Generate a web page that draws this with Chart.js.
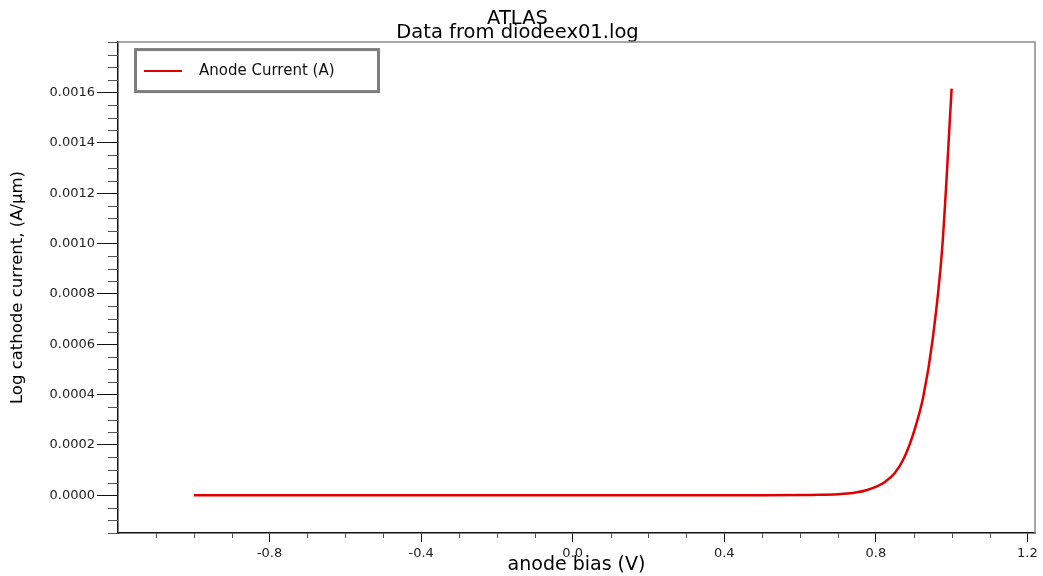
<!DOCTYPE html>
<html>
<head>
<meta charset="utf-8">
<title>ATLAS - diodeex01.log</title>
<script src="https://cdn.jsdelivr.net/npm/chart.js@4.4.1/dist/chart.umd.min.js"></script>
<style>
  html, body { margin: 0; padding: 0; background: #fff; }
</style>
</head>
<body>
<canvas id="ivChart" width="1043" height="576"></canvas>
<script>
// anode sweep read from diodeex01.log
const anodeBias = [-1.0, -0.9, -0.8, -0.7, -0.6, -0.5, -0.4, -0.3, -0.2, -0.1, 0.0,
    0.1, 0.2, 0.3, 0.4, 0.5, 0.6, 0.65, 0.7, 0.725, 0.75, 0.775, 0.8, 0.825,
    0.85, 0.875, 0.9, 0.925, 0.95, 0.975, 1.0];
const anodeCurrent = [0, 0, 0, 0, 0, 0, 0, 0, 0, 0, 0,
    0, 0, 0, 0, 0, 5e-7, 1.5e-6, 4e-6, 6.5e-6, 1.15e-5, 2.0e-5, 3.3e-5, 5.4e-5,
    8.8e-5, 1.5e-4, 2.5e-4, 3.9e-4, 6.2e-4, 9.8e-4, 1.615e-3];

// axis ticks
const xMajorTicks = [-0.8, -0.4, 0.0, 0.4, 0.8, 1.2];
const yMajorTicks = [0, 0.0002, 0.0004, 0.0006, 0.0008, 0.0010, 0.0012, 0.0014, 0.0016];
const xMinorStep = 0.1;
const yMinorStep = 0.00005;

const FONT = "'DejaVu Sans', Verdana, sans-serif";

// minor ticks and the grey top/right frame
const frameTicks = {
    id: 'frameTicks',
    afterDraw(chart) {
        const ctx = chart.ctx;
        const area = chart.chartArea;
        const xs = chart.scales.x;
        const ys = chart.scales.y;
        ctx.save();
        ctx.lineWidth = 1;
        ctx.strokeStyle = '#555';
        ctx.beginPath();
        for (let v = xs.min; v <= xs.max + 1e-9; v += xMinorStep) {
            const r = Math.round(v * 10) / 10;
            if (xMajorTicks.some(t => Math.abs(t - r) < 1e-6) || r <= xs.min + 1e-6) continue;
            const px = Math.round(xs.getPixelForValue(r)) + 0.5;
            ctx.moveTo(px, area.bottom);
            ctx.lineTo(px, area.bottom + 5);
        }
        for (let v = ys.min; v <= ys.max + 1e-12; v += yMinorStep) {
            const r = Math.round(v / yMinorStep) * yMinorStep;
            if (yMajorTicks.some(t => Math.abs(t - r) < 1e-9)) continue;
            const py = Math.round(ys.getPixelForValue(r)) + 0.5;
            ctx.moveTo(area.left - 10, py);
            ctx.lineTo(area.left, py);
        }
        ctx.stroke();

        ctx.strokeStyle = '#8a8a8a';
        ctx.lineWidth = 1.5;
        ctx.beginPath();
        ctx.moveTo(area.left, area.top);
        ctx.lineTo(area.right, area.top);
        ctx.lineTo(area.right, area.bottom);
        ctx.stroke();
        ctx.restore();
    }
};

// boxed legend in the top left of the plot
const boxLegend = {
    id: 'boxLegend',
    afterDraw(chart) {
        const ctx = chart.ctx;
        const area = chart.chartArea;
        const x = area.left + 16;
        const y = area.top + 6;
        ctx.save();
        ctx.fillStyle = '#fff';
        ctx.fillRect(x, y, 246, 45);
        ctx.strokeStyle = '#7d7d7d';
        ctx.lineWidth = 3;
        ctx.strokeRect(x + 1.5, y + 1.5, 243, 42);
        chart.data.datasets.forEach((ds, i) => {
            const cy = y + 23 + i * 22;
            ctx.strokeStyle = ds.borderColor;
            ctx.lineWidth = 2;
            ctx.beginPath();
            ctx.moveTo(x + 10, cy);
            ctx.lineTo(x + 48, cy);
            ctx.stroke();
            ctx.fillStyle = '#111';
            ctx.font = '15px ' + FONT;
            ctx.textBaseline = 'middle';
            ctx.fillText(ds.label, x + 65, cy);
        });
        ctx.restore();
    }
};

const ctx = document.getElementById('ivChart').getContext('2d');
new Chart(ctx, {
    type: 'line',
    data: {
        datasets: [{
            label: 'Anode Current (A)',
            data: anodeBias.map((v, i) => ({x: v, y: anodeCurrent[i]})),
            borderColor: '#e10000',
            borderWidth: 2.5,
            pointRadius: 0,
            cubicInterpolationMode: 'monotone',
            fill: false
        }]
    },
    options: {
        responsive: false,
        animation: false,
        layout: {
            padding: {left: 0, right: 8, top: 0, bottom: 0}
        },
        plugins: {
            legend: {display: false},
            tooltip: {enabled: false},
            title: {
                display: true,
                text: ['ATLAS', 'Data from diodeex01.log'],
                color: '#000',
                font: {family: FONT, size: 19.5, weight: 'normal', lineHeight: 0.72},
                padding: {top: 12, bottom: 2}
            }
        },
        scales: {
            x: {
                type: 'linear',
                min: -1.2,
                max: 1.22,
                afterBuildTicks: scale => {
                    scale.ticks = xMajorTicks.map(v => ({value: v}));
                },
                afterFit: scale => {
                    scale.height = 43;
                },
                grid: {
                    drawOnChartArea: false,
                    drawTicks: true,
                    tickLength: 9,
                    color: '#111'
                },
                border: {display: true, color: '#111', width: 1.5},
                ticks: {
                    color: '#222',
                    padding: 4,
                    maxRotation: 0,
                    font: {family: FONT, size: 13},
                    callback: v => Number(v).toFixed(1)
                },
                title: {
                    display: true,
                    text: 'anode bias (V)',
                    color: '#000',
                    font: {family: FONT, size: 19},
                    padding: {top: 0, bottom: 0}
                }
            },
            y: {
                type: 'linear',
                min: -0.00015,
                max: 0.0018,
                afterBuildTicks: scale => {
                    scale.ticks = yMajorTicks.map(v => ({value: v}));
                },
                afterFit: scale => {
                    scale.width = 118;
                },
                grid: {
                    drawOnChartArea: false,
                    drawTicks: true,
                    tickLength: 21,
                    color: '#111'
                },
                border: {display: true, color: '#111', width: 1.5},
                ticks: {
                    color: '#222',
                    padding: 2,
                    font: {family: FONT, size: 13},
                    callback: v => Number(v).toFixed(4)
                },
                title: {
                    display: true,
                    text: 'Log cathode current, (A/µm)',
                    color: '#000',
                    font: {family: FONT, size: 16.5},
                    padding: {top: 8, bottom: 0}
                }
            }
        }
    },
    plugins: [frameTicks, boxLegend]
});
</script>
</body>
</html>
